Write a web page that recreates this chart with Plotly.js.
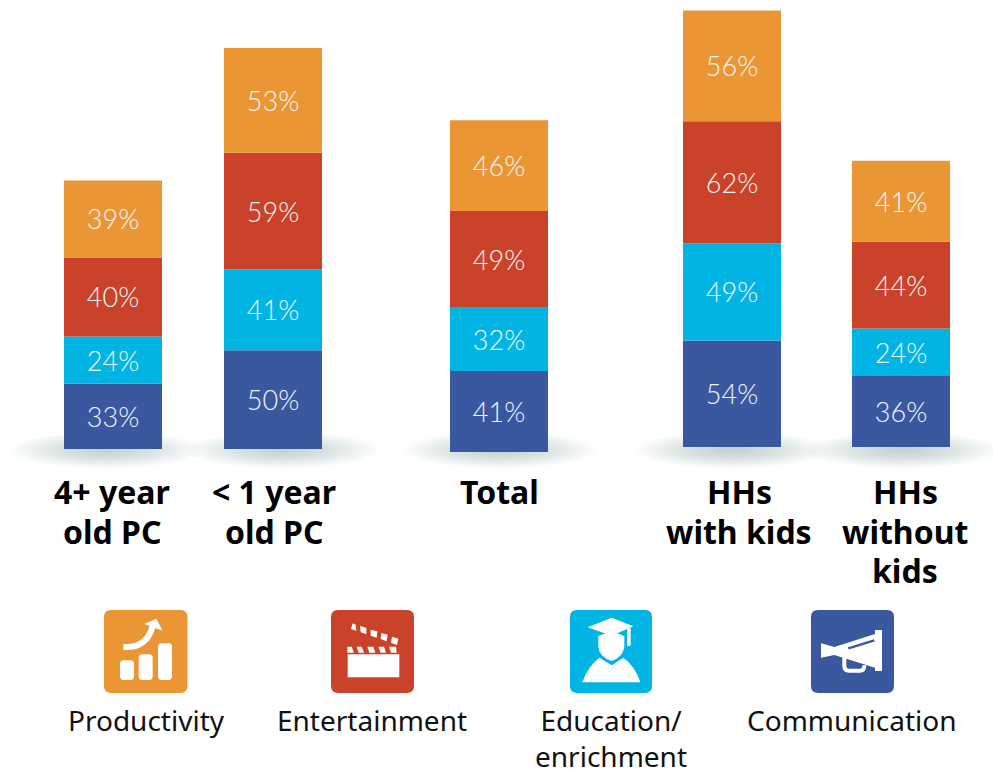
<!DOCTYPE html>
<html>
<head>
<meta charset="utf-8">
<script src="https://cdn.plot.ly/plotly-3.0.1.min.js"></script>
<style>html,body{margin:0;padding:0;background:#fff;overflow:hidden}#chart{width:993px;height:776px}</style>
</head>
<body>
<div id="chart"></div>
<script>
// Share of households using the PC for each purpose, by group
const groups = ['4+ year<br>old PC', '< 1 year<br>old PC', 'Total', 'HHs<br>with kids', 'HHs<br>without<br>kids'];
const communication = [33, 50, 41, 54, 36];
const education = [24, 41, 32, 49, 24];
const entertainment = [40, 59, 49, 62, 44];
const productivity = [39, 53, 46, 56, 41];

const seriesNames = ['Communication', 'Education/<br>enrichment', 'Entertainment', 'Productivity'];
const seriesValues = [communication, education, entertainment, productivity];
const seriesColors = ['#3A58A0', '#00B4E3', '#C94229', '#EA9635'];

// Horizontal placement, in plot pixels
const barCenters = [113, 273, 499, 732, 901];
const labelCenters = [112, 274, 499, 739, 905];
const shadowCenters = [106, 282, 500, 732, 903];
const baselineShift = [0, 0, -1.5, 1, 1];
const legendCenters = [146, 372, 611, 852];

// Vertical scale: 0% sits 449px from the top, 1.975px per point
const zeroPx = 449, pxPerPoint = 1.975;
const toY = p => (zeroPx - p) / pxPerPoint;

const bottoms = baselineShift.slice();
const traces = seriesValues.map((vals, i) => {
  const base = bottoms.slice();
  vals.forEach((v, k) => { bottoms[k] += v; });
  return {
    type: 'bar', name: seriesNames[i], x: barCenters, y: vals, base: base, width: 98,
    marker: {color: seriesColors[i], line: {width: 0}},
    text: vals.map(v => v + '%'), textposition: 'inside', insidetextanchor: 'middle',
    textangle: 0, constraintext: 'none',
    textfont: {family: 'Lato, sans-serif', size: 27, color: '#F4F7FB', weight: 300},
    hoverinfo: 'y', showlegend: false
  };
});

const shapes = [];

// Soft floor shadows built from stacked translucent ellipses
shadowCenters.forEach(cx => {
  const rx = 96, ry = 18, steps = 18;
  for (let s = 0; s < steps; s++) {
    const f = 1 - s / steps;
    shapes.push({type: 'circle', layer: 'below', xref: 'x', yref: 'y',
      x0: cx - rx * f, x1: cx + rx * f, y0: toY(450 - ry * f), y1: toY(450 + ry * f),
      fillcolor: '#8A9DB2', opacity: 0.035, line: {width: 0}});
  }
});

// Icon helpers: coordinates are given at 3x relative to an origin
function path(ox, oy, d, fill, stroke, sw) {
  const out = d.replace(/(-?[\d.]+),(-?[\d.]+)/g, (m, a, b) =>
    (ox + a / 3).toFixed(2) + ',' + toY(oy + b / 3).toFixed(3));
  shapes.push({type: 'path', layer: 'above', xref: 'x', yref: 'y', path: out,
    fillcolor: fill || 'rgba(0,0,0,0)', line: stroke ? {color: stroke, width: sw} : {width: 0}});
}
function tile(x0, x1, color) {
  const r = 7, t = 610, b = 693;
  const X = v => v.toFixed(2), Y = v => toY(v).toFixed(3);
  shapes.push({type: 'path', layer: 'above', xref: 'x', yref: 'y', fillcolor: color, line: {width: 0},
    path: `M${X(x0 + r)},${Y(t)} L${X(x1 - r)},${Y(t)} Q${X(x1)},${Y(t)} ${X(x1)},${Y(t + r)} L${X(x1)},${Y(b - r)} Q${X(x1)},${Y(b)} ${X(x1 - r)},${Y(b)} L${X(x0 + r)},${Y(b)} Q${X(x0)},${Y(b)} ${X(x0)},${Y(b - r)} L${X(x0)},${Y(t + r)} Q${X(x0)},${Y(t)} ${X(x0 + r)},${Y(t)} Z`});
}
const W = '#FFFFFF';
function roundBar(ox, oy, l, r, t, b) {
  const c = 11;
  path(ox, oy, `M${l + c},${t} L${r - c},${t} Q${r},${t} ${r},${t + c} L${r},${b - c} Q${r},${b} ${r - c},${b} L${l + c},${b} Q${l},${b} ${l},${b - c} L${l},${t + c} Q${l},${t} ${l + c},${t} Z`, W);
}

// Productivity: rising bars and arrow
tile(104, 187.5, seriesColors[3]);
roundBar(90, 600, 90, 132, 181, 240);
roundBar(90, 600, 146, 188, 163, 240);
roundBar(90, 600, 204, 246, 130, 240);
path(90, 600, 'M100,141 Q170,146 188,78', null, W, 6);
path(90, 600, 'M163,72 L199,56 L218,92 Z', W);

// Entertainment: clapperboard
tile(331, 414, seriesColors[2]);
path(90, 600, 'M773,163 L928,163 L928,232 L773,232 Z', W);
['M788,70 L797,74 L799,92 L783,87 Z', 'M810,78 L829,84 L829,103 L812,97 Z', 'M842,89 L862,94 L860,113 L842,107 Z',
 'M874,99 L893,104 L890,124 L872,117 Z', 'M906,110 L925,116 L921,135 L903,128 Z',
 'M772,140 L785,140 L792,158 L772,158 Z', 'M800,140 L815,140 L822,158 L806,158 Z', 'M832,140 L850,140 L856,158 L838,158 Z',
 'M865,140 L882,140 L888,158 L872,158 Z', 'M897,140 L918,140 L920,158 L903,158 Z'
].forEach(d => path(90, 600, d, W));

// Education: graduate in cap and gown
tile(570, 652, seriesColors[1]);
path(555, 600, 'M98,82 L170,53 L235,79 L170,107 Z', W);
path(555, 600, 'M130,108 Q170,88 208,108 L208,140 Q205,170 170,183 Q132,170 130,140 Z', W);
path(555, 600, 'M216,86 L227,84 L227,137 L216,137 Z', W);
path(555, 600, 'M82,247 Q100,197 133,173 L170,196 L205,173 Q240,197 256,247 Z', W);

// Communication: megaphone
tile(811, 894, seriesColors[0]);
path(555, 600, 'M798,130 L838,141 L960,102 L960,90 L981,90 L981,213 L960,213 L960,203 L838,165 L798,173 Z', W);
path(555, 600, 'M880,145 L958,121', null, seriesColors[0], 2.5);
path(555, 600, 'M868,172 L868,198 Q868,212 882,212 L915,212 Q928,212 928,196', null, W, 4);

// Group captions sit line by line below the bars to hold a fixed leading
const annotations = [];
groups.forEach((g, i) => g.split('<br>').forEach((line, k) => annotations.push({
  x: labelCenters[i], y: toY(491.5 + k * 39.5), xref: 'x', yref: 'y', xanchor: 'center', yanchor: 'middle',
  text: line, showarrow: false, borderpad: 0,
  font: {family: '"Noto Sans", sans-serif', size: 32, color: '#000', weight: 700}
})));

// Legend captions hang from a shared first line; the two-line one is a single block
seriesNames.slice().reverse().forEach((n, i) => annotations.push({
  x: legendCenters[i], y: toY(700), xref: 'x', yref: 'y', xanchor: 'center', yanchor: 'top',
  text: n, showarrow: false, borderpad: 0, align: 'center',
  font: {family: '"Noto Sans", sans-serif', size: 28, color: '#111'}
}));

Plotly.newPlot('chart', traces, {
  width: 993, height: 776, margin: {l: 0, r: 0, t: 0, b: 0},
  barmode: 'overlay', paper_bgcolor: '#fff', plot_bgcolor: 'rgba(0,0,0,0)',
  xaxis: {range: [0, 993], visible: false, fixedrange: true},
  yaxis: {range: [toY(776), toY(0)], visible: false, fixedrange: true},
  shapes: shapes, annotations: annotations
}, {displayModeBar: false, staticPlot: true});
</script>
</body>
</html>
